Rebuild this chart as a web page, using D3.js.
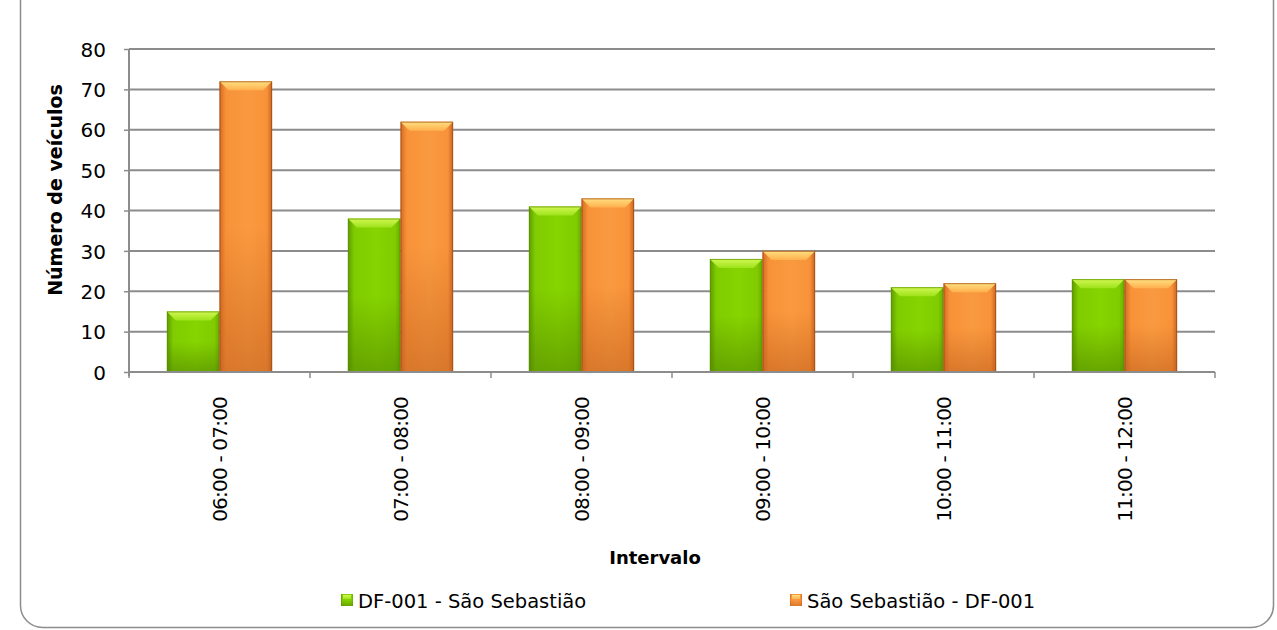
<!DOCTYPE html>
<html><head><meta charset="utf-8">
<script src="https://cdn.jsdelivr.net/npm/d3@7"></script>
<style>body{margin:0;background:#fff}svg{display:block}text{font-family:"DejaVu Sans",sans-serif;fill:#000}</style>
</head><body><svg id="c" width="1277" height="630"></svg>
<script>
const categories = ["06:00 - 07:00","07:00 - 08:00","08:00 - 09:00","09:00 - 10:00","10:00 - 11:00","11:00 - 12:00"];
const seriesNames = ["DF-001 - São Sebastião","São Sebastião - DF-001"];
const seriesA = [15, 38, 41, 28, 21, 23];
const seriesB = [72, 62, 43, 30, 22, 23];
const yTicks = [0,10,20,30,40,50,60,70,80];
const yTitle = "Número de veículos";
const xTitle = "Intervalo";

const svg = d3.select("#c");
const defs = svg.append("defs");
const pal = [
  {body:["#5e9a00","#80cc00","#86d400","#6aaa00"], bottom:"#4f8000", bevel:["#d2f852","#9ee21c"], edge:"#5a9000"},
  {body:["#d46a22","#f89238","#f99a40","#c86424"], bottom:"#c0601e", bevel:["#ffe080","#ffb04e"], edge:"#9a4c14"}
];
pal.forEach((p,i)=>{
  const h = defs.append("linearGradient").attr("id","h"+i).attr("x1",0).attr("x2",1).attr("y1",0).attr("y2",0);
  [[0,p.body[0]],[0.12,p.body[1]],[0.55,p.body[2]],[0.9,p.body[1]],[1,p.body[3]]].forEach(s=>h.append("stop").attr("offset",s[0]).attr("stop-color",s[1]));
  const v = defs.append("linearGradient").attr("id","v"+i).attr("x1",0).attr("x2",0).attr("y1",0).attr("y2",1);
  v.append("stop").attr("offset",0).attr("stop-color",p.bottom).attr("stop-opacity",0);
  v.append("stop").attr("offset",0.5).attr("stop-color",p.bottom).attr("stop-opacity",0.0);
  v.append("stop").attr("offset",1).attr("stop-color",p.bottom).attr("stop-opacity",0.55);
  const b = defs.append("linearGradient").attr("id","b"+i).attr("x1",0).attr("x2",0).attr("y1",0).attr("y2",1);
  b.append("stop").attr("offset",0).attr("stop-color",p.bevel[0]);
  b.append("stop").attr("offset",1).attr("stop-color",p.bevel[1]);
});

// frame
svg.append("rect").attr("x",20.5).attr("y",-20).attr("width",1253).attr("height",647.5)
  .attr("rx",22).attr("fill","#fff").attr("stroke","#8c8c8c").attr("stroke-width",1.5);

const L=129, R=1215, T=49, B=372;
const y = d3.scaleLinear().domain([0,80]).range([B,T]);
const x0 = d3.scaleBand().domain(categories).range([L,R]).padding(0);
const x1 = d3.scaleBand().domain(seriesNames).range([0,x0.bandwidth()]).paddingInner(0).paddingOuter(0.72);

// grid
svg.append("g").selectAll("line").data(yTicks.slice(1)).join("line")
  .attr("x1",L).attr("x2",R).attr("y1",d=>y(d)).attr("y2",d=>y(d))
  .attr("stroke","#8c8c8c").attr("stroke-width",2);

// y axis
const ya = svg.append("g").attr("transform",`translate(${L},0)`)
  .call(d3.axisLeft(y).tickValues(yTicks).tickSize(5).tickPadding(18));
ya.select(".domain").attr("stroke","#8c8c8c").attr("stroke-width",2).attr("d",`M0,${T}V${B+4}`);
ya.selectAll(".tick line").attr("stroke","#8c8c8c").attr("stroke-width",1.5);
ya.selectAll(".tick text").style("font-size","20px").attr("fill","#000").attr("dy","0.36em");

// bars
const data = [seriesA, seriesB];
const g = svg.append("g");
categories.forEach((c,ci)=>{
  seriesNames.forEach((s,si)=>{
    const v = data[si][ci];
    const bx = x0(c)+x1(s), bw = x1.bandwidth(), by = y(v), bh = y(0)-y(v);
    const gg = g.append("g");
    gg.append("rect").attr("x",bx).attr("y",by).attr("width",bw).attr("height",bh).attr("fill",`url(#h${si})`);
    gg.append("rect").attr("x",bx).attr("y",by).attr("width",bw).attr("height",bh).attr("fill",`url(#v${si})`);
    const bev = Math.min(9, bh/2), ins = 9;
    gg.append("path").attr("d",`M${bx},${by}H${bx+bw}L${bx+bw-ins},${by+bev}H${bx+ins}Z`).attr("fill",`url(#b${si})`);
    gg.append("rect").attr("x",bx+0.5).attr("y",by+0.5).attr("width",bw-1).attr("height",bh-1)
      .attr("fill","none").attr("stroke",pal[si].edge).attr("stroke-width",1).attr("stroke-opacity",0.7);
  });
});

// x axis
svg.append("line").attr("x1",L).attr("x2",R).attr("y1",B).attr("y2",B).attr("stroke","#8c8c8c").attr("stroke-width",2);
const bounds = categories.map(c=>x0(c)).concat([R]);
svg.append("g").selectAll("line").data(bounds).join("line")
  .attr("x1",d=>d).attr("x2",d=>d).attr("y1",B).attr("y2",B+6).attr("stroke","#8c8c8c").attr("stroke-width",1.5);
svg.append("g").selectAll("text").data(categories).join("text")
  .attr("transform",d=>`translate(${x0(d)+x0.bandwidth()/2+7},397) rotate(-90)`)
  .attr("text-anchor","end").style("font-size","20px").style("letter-spacing","-0.8px").text(d=>d);

// titles
svg.append("text").attr("transform",`translate(62,190) rotate(-90)`).attr("text-anchor","middle")
  .style("font-size","19px").style("font-weight","bold").text(yTitle);
svg.append("text").attr("x",655).attr("y",564).attr("text-anchor","middle")
  .style("font-size","18px").style("font-weight","bold").text(xTitle);

// legend
const legX = [341, 790];
seriesNames.forEach((s,si)=>{
  const lg = svg.append("g").attr("transform",`translate(${legX[si]},594)`);
  lg.append("rect").attr("width",12).attr("height",12).attr("fill",`url(#h${si})`);
  lg.append("rect").attr("width",12).attr("height",12).attr("fill",`url(#v${si})`);
  lg.append("rect").attr("x",2).attr("y",1).attr("width",8).attr("height",4).attr("fill",`url(#b${si})`);
  lg.append("text").attr("x",17).attr("y",13.5).style("font-size","19.5px").text(s);
});
</script></body></html>
